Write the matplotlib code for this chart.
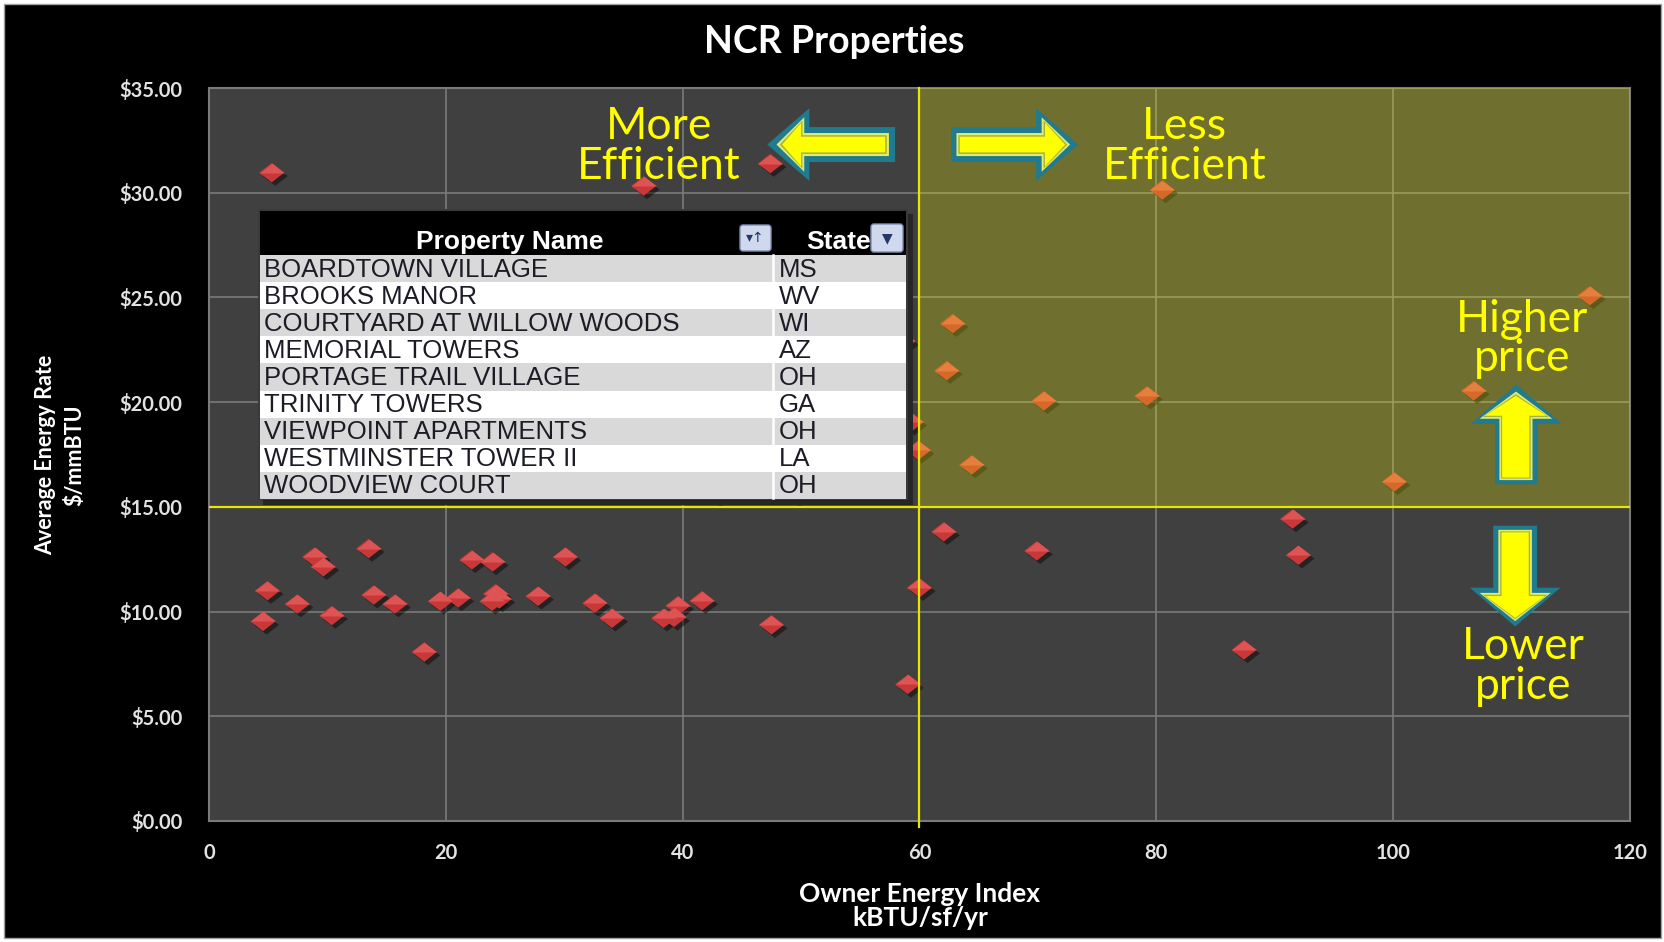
import matplotlib
matplotlib.use("Agg")
import matplotlib.pyplot as plt
import matplotlib.patches as mpatches
import matplotlib.patheffects as pe
from matplotlib.path import Path
from matplotlib.ticker import FuncFormatter

plt.rcParams['font.family'] = ['Lato', 'DejaVu Sans']

# owner energy index (kBTU/sf/yr) and average energy rate ($/mmBTU), one entry per property
energy_index = [4.56, 4.94, 7.46, 8.92, 9.65, 10.37, 13.48, 13.91, 15.7, 18.18,
                19.53, 21.04, 22.2, 23.95, 23.9, 24.2, 24.5, 27.78, 30.1, 32.57,
                34.03, 38.39, 39.26, 39.6, 41.64, 47.5, 59.0, 60.0, 62.05, 69.9,
                87.4, 91.5, 92.0,
                5.3, 36.7, 47.4, 42.9, 49.6, 58.6, 59.3, 59.9,
                62.8, 62.3, 64.4, 70.5, 79.2, 80.5, 100.1, 106.8, 116.6]
energy_rate = [9.53, 11.0, 10.36, 12.61, 12.14, 9.81, 13.01, 10.79, 10.36, 8.07,
               10.49, 10.65, 12.47, 12.37, 10.49, 10.85, 10.6, 10.73, 12.61, 10.4,
               9.68, 9.68, 9.72, 10.28, 10.52, 9.37, 6.52, 11.14, 13.81, 12.9,
               8.17, 14.42, 12.69,
               30.96, 30.32, 31.39, 15.64, 15.64, 22.9, 19.05, 17.7,
               23.75, 21.5, 17.0, 20.06, 20.29, 30.13, 16.2, 20.54, 25.08]

# properties listed in the filter panel
property_names = ["BOARDTOWN VILLAGE", "BROOKS MANOR", "COURTYARD AT WILLOW WOODS",
                  "MEMORIAL TOWERS", "PORTAGE TRAIL VILLAGE", "TRINITY TOWERS",
                  "VIEWPOINT APARTMENTS", "WESTMINSTER TOWER II", "WOODVIEW COURT"]
property_states = ["MS", "WV", "WI", "AZ", "OH", "GA", "OH", "LA", "OH"]

x_ticks = [0, 20, 40, 60, 80, 100, 120]
y_ticks = [0, 5, 10, 15, 20, 25, 30, 35]

# quadrant boundaries
index_split = 60
rate_split = 15

W, H = 1665, 942
fig = plt.figure(figsize=(W / 100, H / 100), dpi=100, facecolor='white')
fig.add_artist(mpatches.Rectangle((4 / W, 4 / H), (W - 8) / W, (H - 8) / H,
                                  transform=fig.transFigure, facecolor='black',
                                  edgecolor='#a0a0a0', lw=1, zorder=-10))

ax = fig.add_axes([209 / W, 1 - 821 / H, (1630 - 209) / W, (821 - 88) / H])
ax.set_facecolor('#404040')
ax.set_xlim(x_ticks[0], x_ticks[-1])
ax.set_ylim(y_ticks[0], y_ticks[-1])
ax.set_xticks(x_ticks)
ax.set_yticks(y_ticks)
ax.yaxis.set_major_formatter(FuncFormatter(lambda v, _: f'${v:.2f}'))
ax.grid(True, color='#7a7a7a', lw=1.2)
ax.set_axisbelow(True)
for s in ax.spines.values():
    s.set_color('#7a7a7a')
    s.set_linewidth(1.5)
ax.tick_params(length=0, labelcolor='#e2e2e2', labelsize=14.5)
ax.tick_params(axis='y', pad=19)
ax.tick_params(axis='x', pad=16)
for lbl in ax.get_xticklabels() + ax.get_yticklabels():
    lbl.set_fontweight('bold')

# bevelled diamond markers: full body plus a lighter top facet
diamond = Path([(0, 0.78), (1, 0), (0, -0.78), (-1, 0), (0, 0.78)], closed=True)
top_facet = Path([(-1, 0), (0, 0.78), (1, 0), (-1, 0)], closed=True)
ax.plot(energy_index, energy_rate, ls='none', marker=diamond, ms=18, mew=0,
        color='#c83838', zorder=3,
        path_effects=[pe.SimplePatchShadow(offset=(2.5, -2.5), shadow_rgbFace='black', alpha=0.45),
                      pe.Normal()])
ax.plot(energy_index, energy_rate, ls='none', marker=top_facet, ms=18, mew=0,
        color='#de5454', zorder=3)

# highlight the high-use / high-price quadrant
ax.add_patch(mpatches.Rectangle((index_split, rate_split),
                                x_ticks[-1] - index_split, y_ticks[-1] - rate_split,
                                facecolor='#ffff00', alpha=0.25, edgecolor='none', zorder=4))
ax.axhline(rate_split, color='#e6e600', lw=1.6, zorder=5)
ax.axvline(index_split, ymin=-0.008, color='#e6e600', lw=1.6, zorder=5, clip_on=False)


def block_arrow(outer, inner):
    """Layered block arrow: teal rim, pale and olive inner lines, yellow fill.
    outer/inner are (x, y, dx, dy, width, head_width, head_length)."""
    layers = [(0.0, '#217b8f'), (0.62, '#e3ea6c'), (0.84, '#a8b43e'), (1.0, '#ffff00')]
    for t, colour in layers:
        x, y, dx, dy, w, hw, hl = [a + t * (b - a) for a, b in zip(outer, inner)]
        ax.add_patch(mpatches.FancyArrow(x, y, dx, dy, width=w, head_width=hw,
                                         head_length=hl, length_includes_head=True,
                                         facecolor=colour, edgecolor='none', zorder=6))


block_arrow((57.94, 32.3, -10.79, 0, 1.67, 3.47, 3.55), (57.1, 32.3, -8.7, 0, 0.75, 2.07, 1.6))
block_arrow((62.67, 32.3, 10.73, 0, 1.67, 3.47, 3.55), (63.4, 32.3, 8.9, 0, 0.75, 2.07, 1.7))
block_arrow((110.4, 16.08, 0, 4.76, 3.6, 7.7, 1.87), (110.35, 16.4, 0, 3.9, 2.3, 5.2, 0.95))
block_arrow((110.3, 14.1, 0, -4.81, 3.7, 7.65, 1.85), (110.3, 13.78, 0, -4.08, 2.3, 5.0, 1.04))

note_style = dict(color='#ffff00', fontsize=32, ha='center', va='center',
                  linespacing=0.95, zorder=7)
ax.text(38.0, 32.2, 'More\nEfficient', **note_style)
ax.text(82.4, 32.2, 'Less\nEfficient', **note_style)
ax.text(110.9, 23.0, 'Higher\nprice', **note_style)
ax.text(111.0, 7.37, 'Lower\nprice', **note_style)

fig.text(834 / W, 1 - 53 / H, 'NCR Properties', ha='center', va='baseline',
         color='white', fontsize=27, fontweight='bold')
fig.text(920 / W, 1 - 906 / H, 'Owner Energy Index\nkBTU/sf/yr', ha='center', va='center',
         color='white', fontsize=19, fontweight='bold', linespacing=1.05)
fig.text(60 / W, 1 - 455 / H, 'Average Energy Rate\n$/mmBTU', ha='center', va='center',
         rotation=90, color='white', fontsize=15.5, fontweight='bold', linespacing=1.45)

# filter panel listing the properties, laid out in pixel units
tab = fig.add_axes([258 / W, 1 - 500 / H, 650 / W, 291 / H])
tab.set_xlim(0, 650)
tab.set_ylim(291, 0)
tab.axis('off')
tab.add_patch(mpatches.Rectangle((5, 5), 650, 291, facecolor='#262626', edgecolor='none',
                                 clip_on=False, zorder=0))
tab.add_patch(mpatches.Rectangle((0, 0), 650, 291, facecolor='#3a3a3a', edgecolor='none', zorder=1))
tab.add_patch(mpatches.Rectangle((2, 2), 646, 44, facecolor='black', edgecolor='none', zorder=2))

row_h = 27.1
col_split = 515
cell_font = dict(family=['Liberation Sans', 'DejaVu Sans'], fontsize=18.5, color='#1c1c26',
                 va='center', zorder=4)
for i, (name, state) in enumerate(zip(property_names, property_states)):
    top = 46 + i * row_h
    shade = '#d9d9d9' if i % 2 == 0 else 'white'
    tab.add_patch(mpatches.Rectangle((2, top), 646, row_h, facecolor=shade,
                                     edgecolor='none', zorder=2))
    tab.text(6, top + row_h / 2 + 1, name, **cell_font)
    tab.text(col_split + 6, top + row_h / 2 + 1, state, **cell_font)
tab.plot([col_split, col_split], [46, 289], color='white', lw=1.8, zorder=3)

head_font = dict(family=['Liberation Sans', 'DejaVu Sans'], fontsize=19, color='white',
                 fontweight='bold', va='baseline', zorder=4)
tab.text(252, 40, 'Property Name', ha='center', **head_font)
tab.text(548, 40, 'State', ha='left', **head_font)
for bx, by, bw, bh, glyph in [(482, 16, 31, 26, '▾↑'), (613, 15, 32, 28, '▼')]:
    tab.add_patch(mpatches.FancyBboxPatch((bx, by), bw, bh,
                                          boxstyle='round,pad=0,rounding_size=3',
                                          facecolor='#cfd8ec', edgecolor='#7f8fb5',
                                          lw=1, zorder=5))
    tab.text(bx + bw / 2, by + bh / 2, glyph, ha='center', va='center', fontsize=10,
             family='DejaVu Sans', color='#24366a', zorder=6)

fig.savefig('out.png', dpi=100, facecolor=fig.get_facecolor())
